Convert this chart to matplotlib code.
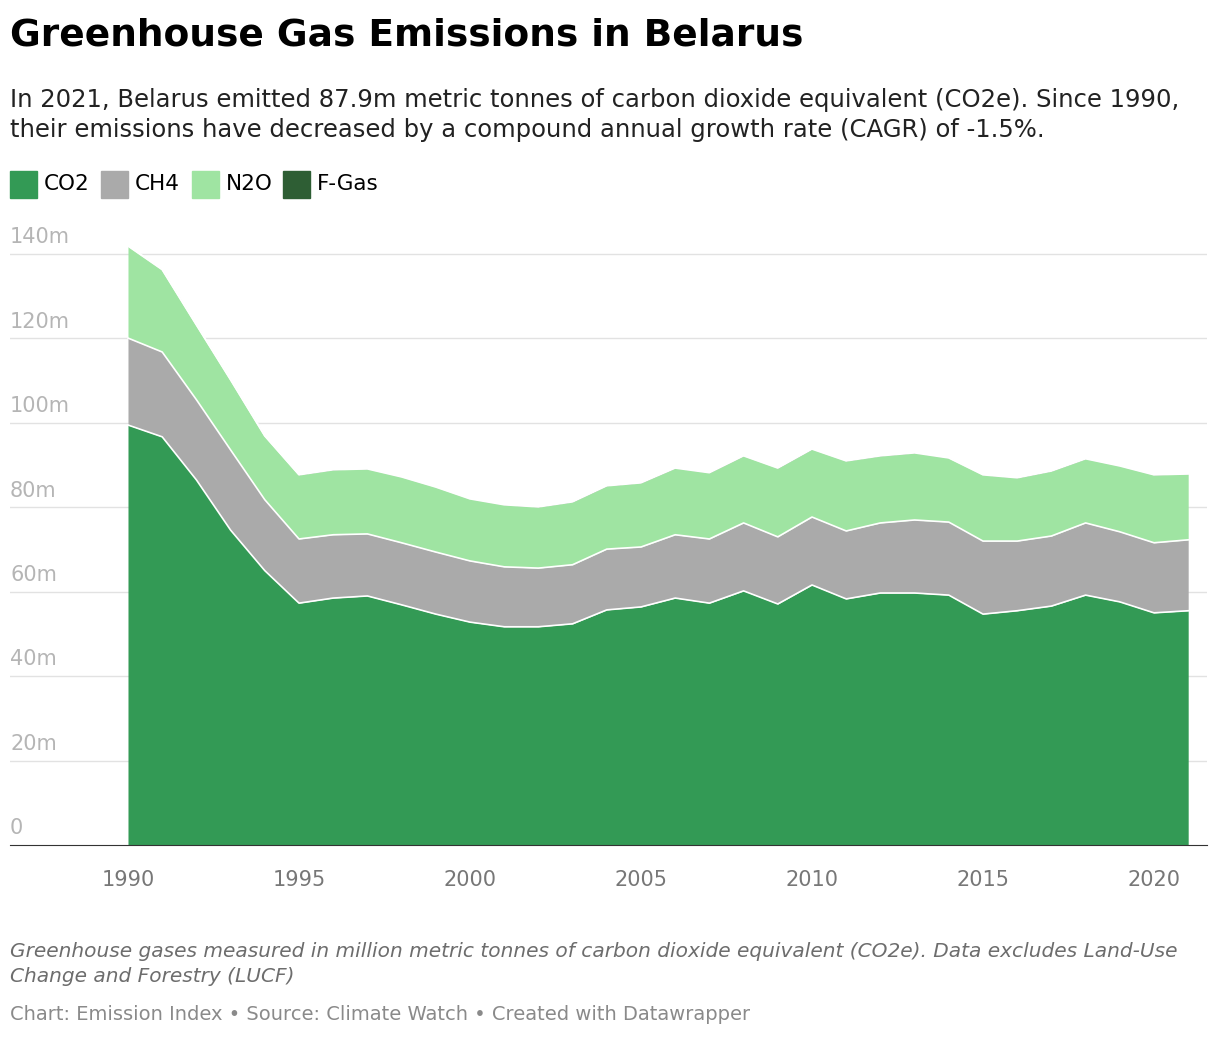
import matplotlib.pyplot as plt
import numpy as np

years = list(range(1990, 2022))
co2 = [99.5, 96.7, 86.5, 74.6, 65.0, 57.3, 58.5, 59.0, 56.9, 54.7, 52.8, 51.7, 51.7, 52.4, 55.7, 56.4,
       58.5, 57.3, 60.2, 57.1, 61.6, 58.3, 59.7, 59.7, 59.2, 54.7, 55.5, 56.6, 59.2, 57.6, 55.0, 55.5]
ch4 = [20.6, 20.1, 19.0, 19.0, 16.8, 15.2, 15.0, 14.7, 14.7, 14.7, 14.5, 14.2, 13.9, 14.0, 14.4, 14.2,
       15.0, 15.2, 16.1, 15.9, 16.1, 16.1, 16.6, 17.3, 17.3, 17.3, 16.5, 16.6, 17.1, 16.6, 16.6, 16.8]
n2o = [21.8, 19.5, 17.7, 16.6, 15.1, 15.2, 15.4, 15.4, 15.6, 15.4, 14.7, 14.7, 14.5, 14.9, 15.0, 15.2,
       15.8, 15.7, 15.9, 16.3, 16.1, 16.6, 15.9, 15.9, 15.2, 15.7, 15.0, 15.4, 15.2, 15.6, 16.1, 15.6]
fgas = [0.1] * 32
labels = ["CO2", "CH4", "N2O", "F-Gas"]
colors = ["#339a55", "#aaaaaa", "#9fe4a2", "#2e5e34"]

fig = plt.figure(figsize=(12.2, 10.38), dpi=100)
ax = fig.add_axes([10 / 1220, 1 - 845 / 1038, 1197 / 1220, 615 / 1038])

stack = np.cumsum([co2, ch4, n2o, fgas], axis=0)
base = np.zeros(len(years))
for top, c in zip(stack, colors):
    ax.fill_between(years, base, top, color=c, lw=0)
    ax.plot(years, top, color="white", lw=1.2)
    base = top

ax.set_xlim(1986.55, 2021.55)
ax.set_ylim(0, 145.7)
for v in range(20, 160, 20):
    ax.axhline(v, color="#e2e2e2", lw=1, zorder=0)
for v in range(0, 160, 20):
    ax.text(1986.55, v + 1.6, f"{v}m" if v else "0", color="#b5b5b5", fontsize=15, va="bottom", ha="left")
ax.set_yticks([])
ax.set_xticks(range(1990, 2021, 5))
ax.tick_params(axis="x", length=0, labelsize=15, labelcolor="#777777", pad=18)
for s in ["top", "right", "left"]:
    ax.spines[s].set_visible(False)
ax.spines["bottom"].set_color("#333333")
ax.set_axisbelow(True)

fig.text(10 / 1220, 1 - 36 / 1038, "Greenhouse Gas Emissions in Belarus", fontsize=27, weight="bold", va="center")
fig.text(10 / 1220, 1 - 115 / 1038,
         "In 2021, Belarus emitted 87.9m metric tonnes of carbon dioxide equivalent (CO2e). Since 1990,\n"
         "their emissions have decreased by a compound annual growth rate (CAGR) of -1.5%.",
         fontsize=17.5, va="center", color="#222222", linespacing=1.35)
x = 10
for lab, c in zip(labels, colors):
    fig.patches.append(plt.Rectangle((x / 1220, 1 - 198 / 1038), 27 / 1220, 27 / 1038,
                                     transform=fig.transFigure, color=c))
    fig.text((x + 34) / 1220, 1 - 184 / 1038, lab, fontsize=15.5, va="center")
    x += 34 + len(lab) * 11 + 24
fig.text(10 / 1220, 1 - 964 / 1038,
         "Greenhouse gases measured in million metric tonnes of carbon dioxide equivalent (CO2e). Data excludes Land-Use\n"
         "Change and Forestry (LUCF)", fontsize=14.5, style="italic", color="#6d6d6d", va="center", linespacing=1.4)
fig.text(10 / 1220, 1 - 1015 / 1038, "Chart: Emission Index • Source: Climate Watch • Created with Datawrapper",
         fontsize=14, color="#8a8a8a", va="center")
fig.savefig("out.png")
